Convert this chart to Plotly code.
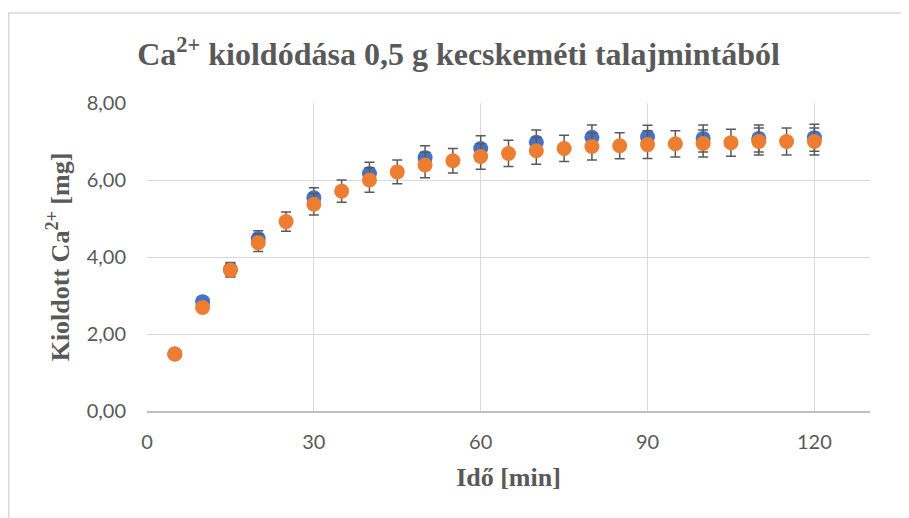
import plotly.graph_objects as go

# sampling times [min]
time_orange = [5, 10, 15, 20, 25, 30, 35, 40, 45, 50, 55, 60, 65, 70, 75, 80,
               85, 90, 95, 100, 105, 110, 115, 120]
ca_orange = [1.48, 2.69, 3.66, 4.37, 4.92, 5.37, 5.71, 6.00, 6.21, 6.39, 6.50, 6.61,
             6.69, 6.76, 6.82, 6.87, 6.89, 6.92, 6.94, 6.95, 6.97, 7.00, 7.00, 7.00]
err_orange = [0.08, 0.12, 0.18, 0.23, 0.25, 0.28, 0.29, 0.32, 0.31, 0.33, 0.32, 0.33,
              0.34, 0.35, 0.34, 0.35, 0.34, 0.36, 0.34, 0.35, 0.35, 0.35, 0.35, 0.35]

time_blue = [5, 10, 15, 20, 30, 40, 50, 60, 70, 80, 90, 100, 110, 120]
ca_blue = [1.48, 2.84, 3.68, 4.48, 5.54, 6.17, 6.58, 6.82, 6.98, 7.11, 7.12, 7.08, 7.08, 7.10]
err_blue = [0.08, 0.12, 0.18, 0.20, 0.26, 0.29, 0.31, 0.33, 0.32, 0.32, 0.30, 0.35, 0.35, 0.35]

x_ticks = [0, 30, 60, 90, 120]
y_ticks = [0, 2, 4, 6, 8]
y_tick_labels = ["0,00", "2,00", "4,00", "6,00", "8,00"]

grey_text = "#595959"
serif = "Liberation Serif"

fig = go.Figure()

fig.add_trace(go.Scatter(
    x=time_blue, y=ca_blue, mode="markers",
    marker=dict(color="#4472C4", size=15),
    error_y=dict(type="data", array=err_blue, color="#595959", thickness=1.5, width=5),
    showlegend=False,
))
fig.add_trace(go.Scatter(
    x=time_orange, y=ca_orange, mode="markers",
    marker=dict(color="#ED7D31", size=15),
    error_y=dict(type="data", array=err_orange, color="#595959", thickness=1.5, width=5),
    showlegend=False,
))

# page body adds an 8px offset, so the figure is 901x510
fig.update_layout(
    width=901, height=510,
    margin=dict(l=139, r=39, t=95, b=107),
    plot_bgcolor="white",
    paper_bgcolor="white",
    title=dict(
        text="Ca<sup>2+</sup> kioldódása 0,5 g kecskeméti talajmintából",
        font=dict(family=serif, size=32, color=grey_text, weight="bold"),
        x=0.5, xanchor="center", y=0.91, yanchor="middle",
    ),
    xaxis=dict(
        range=[0, 130], tickvals=x_ticks, automargin=False,
        showgrid=True, gridcolor="#D9D9D9", gridwidth=1,
        zeroline=False, showline=True, linecolor="#BFBFBF", linewidth=1.5,
        ticks="", ticklabelstandoff=12,
        tickfont=dict(family="Lato", size=20, color=grey_text),
        title=dict(text="Idő [min]", standoff=16,
                   font=dict(family=serif, size=26, color=grey_text, weight="bold")),
    ),
    yaxis=dict(
        range=[0, 8], tickvals=y_ticks, ticktext=y_tick_labels, automargin=False,
        showgrid=True, gridcolor="#D9D9D9", gridwidth=1,
        zeroline=False, showline=False,
        ticks="", ticklabelstandoff=20,
        tickfont=dict(family="Lato", size=20, color=grey_text),
        title=dict(text="Kioldott Ca<sup>2+</sup> [mg]", standoff=9,
                   font=dict(family=serif, size=26, color=grey_text, weight="bold")),
    ),
    shapes=[dict(
        type="rect", xref="paper", yref="paper",
        x0=-0.1912, x1=1.06, y0=-0.36, y1=1.292,
        line=dict(color="#D9D9D9", width=1.5), layer="below",
    )],
)

fig.write_html("out.html")
